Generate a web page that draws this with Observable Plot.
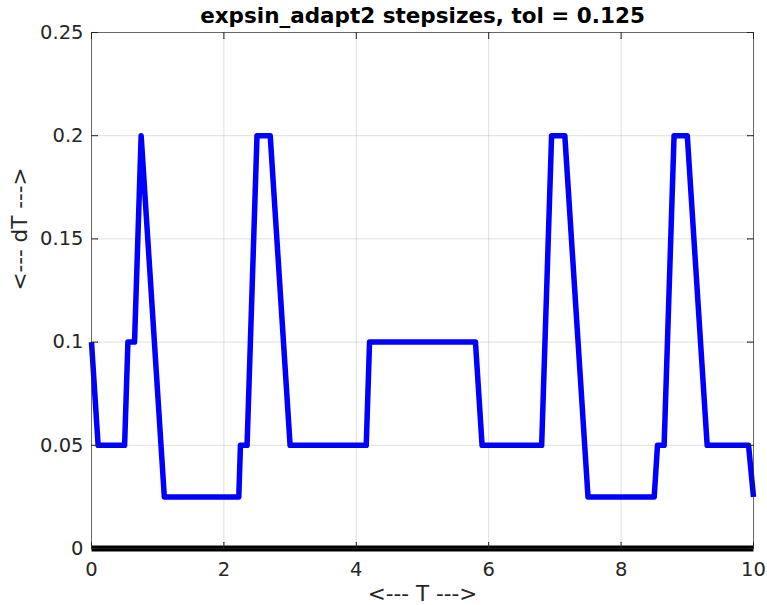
<!DOCTYPE html>
<html>
<head>
<meta charset="utf-8">
<script src="https://cdn.jsdelivr.net/npm/d3@7"></script>
<script src="https://cdn.jsdelivr.net/npm/@observablehq/plot@0.6"></script>
<style>
  html, body { margin: 0; padding: 0; background: #ffffff; }
</style>
</head>
<body>
<div id="chart"></div>
<script>
// Vertices of the step-size curve (T, dT)
const T  = [0, 0.1, 0.5, 0.55, 0.65, 0.75, 1.1, 2.225, 2.25, 2.35, 2.5, 2.7, 3.0, 4.15, 4.2, 5.8, 5.9, 6.8, 6.95, 7.15, 7.5, 8.5, 8.55, 8.65, 8.8, 9.0, 9.3, 9.925, 10.0];
const dT = [0.1, 0.05, 0.05, 0.1, 0.1, 0.2, 0.025, 0.025, 0.05, 0.05, 0.2, 0.2, 0.05, 0.05, 0.1, 0.1, 0.05, 0.05, 0.2, 0.2, 0.025, 0.025, 0.05, 0.05, 0.2, 0.2, 0.05, 0.05, 0.025];

const xTicks = [0, 2, 4, 6, 8, 10];
const xTickLabels = ["0", "2", "4", "6", "8", "10"];
const yTicks = [0, 0.05, 0.1, 0.15, 0.2, 0.25];
const yTickLabels = ["0", "0.05", "0.1", "0.15", "0.2", "0.25"];

const titleText = "expsin_adapt2 stepsizes, tol = 0.125";
const xLabel = "<--- T --->";
const yLabel = "<--- dT --->";

const data = T.map((t, i) => ({T: t, dT: dT[i], zero: 0}));

const axisColor = "#262626";
const tickLen = 6;

const chart = Plot.plot({
  width: 767,
  height: 605,
  marginLeft: 91,
  marginRight: 14,
  marginTop: 32,
  marginBottom: 57,
  style: {fontFamily: "DejaVu Sans", fontSize: "19.5px", color: axisColor, background: "#ffffff"},
  x: {domain: [0, 10]},
  y: {domain: [0, 0.25]},
  marks: [
    Plot.gridX(xTicks, {stroke: axisColor, strokeOpacity: 0.15, strokeWidth: 1}),
    Plot.gridY(yTicks, {stroke: axisColor, strokeOpacity: 0.15, strokeWidth: 1}),
    Plot.line(data, {x: "T", y: "dT", stroke: "#0000ff", strokeWidth: 5.5, strokeLinejoin: "round", strokeLinecap: "butt"}),
    Plot.line(data, {x: "T", y: "zero", stroke: "#000000", strokeWidth: 6, strokeLinecap: "butt"}),
    Plot.frame({stroke: axisColor, strokeOpacity: 0.65, strokeWidth: 1}),
    // inward tick marks on all four sides
    Plot.vector(xTicks, {x: d => d, frameAnchor: "bottom", rotate: 0, length: tickLen, anchor: "start", r: 0, stroke: axisColor, strokeWidth: 1}),
    Plot.vector(xTicks, {x: d => d, frameAnchor: "top", rotate: 180, length: tickLen, anchor: "start", r: 0, stroke: axisColor, strokeWidth: 1}),
    Plot.vector(yTicks, {y: d => d, frameAnchor: "left", rotate: 90, length: tickLen, anchor: "start", r: 0, stroke: axisColor, strokeWidth: 1}),
    Plot.vector(yTicks, {y: d => d, frameAnchor: "right", rotate: -90, length: tickLen, anchor: "start", r: 0, stroke: axisColor, strokeWidth: 1}),
    Plot.axisX(xTicks, {tickSize: 0, tickPadding: 14, label: null, tickFormat: d => xTickLabels[xTicks.indexOf(d)], fill: axisColor}),
    Plot.axisY(yTicks, {tickSize: 0, tickPadding: 8, label: null, tickFormat: d => yTickLabels[yTicks.indexOf(d)], fill: axisColor}),
    Plot.text([titleText], {frameAnchor: "top", lineAnchor: "middle", dy: -16, fontSize: 21.5, fontWeight: "bold", fill: "#000000"}),
    Plot.text([xLabel], {frameAnchor: "bottom", lineAnchor: "middle", dy: 46, fontSize: 21.5, fill: axisColor}),
    Plot.text([yLabel], {frameAnchor: "left", lineAnchor: "middle", dx: -71, rotate: -90, fontSize: 21.5, fill: axisColor})
  ]
});

document.getElementById("chart").appendChild(chart);
</script>
</body>
</html>
